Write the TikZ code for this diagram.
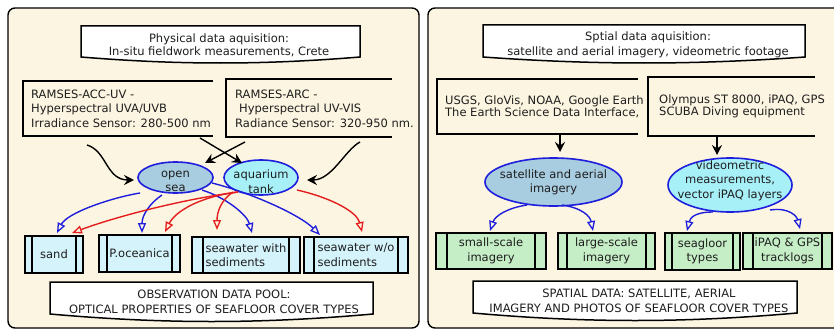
\documentclass[tikz,border=0pt]{standalone}
\usepackage{fontspec}
\setmainfont{DejaVu Sans}
\usetikzlibrary{arrows.meta,shapes.geometric}
\definecolor{cream}{HTML}{FCF5E1}
\definecolor{boxcyan}{HTML}{D4F3FA}
\definecolor{boxgreen}{HTML}{C6EEC6}
\definecolor{ellA}{HTML}{A8CCE0}
\definecolor{ellB}{HTML}{A8F0F8}
\definecolor{eblue}{HTML}{1E1EDC}
\definecolor{ered}{HTML}{E41E1E}
\definecolor{txt}{HTML}{1E1E1E}
\tikzset{
 every node/.style={text=txt, font=\fontsize{11.5}{14.5}\selectfont, inner sep=0pt},
 panel/.style={draw=black, line width=1.4pt, fill=cream, rounded corners=7pt},
 docbox/.style={draw=black, line width=1.5pt, fill=white},
 openbox/.style={draw=black, line width=1.5pt},
 sbox/.style={rectangle},
 pbox/.style={rectangle, draw=black, line width=1.5pt, align=center,
   path picture={\draw[line width=1.5pt]
     ([xshift=#1]path picture bounding box.north west) -- ([xshift=#1]path picture bounding box.south west)
     ([xshift=-#1]path picture bounding box.north east) -- ([xshift=-#1]path picture bounding box.south east);}},
 cyanbox/.style={pbox=#1, fill=boxcyan},
 greenbox/.style={pbox=#1, fill=boxgreen},
 ell/.style={ellipse, draw=eblue, line width=1.6pt},
 blk/.style={-{Stealth[length=10pt,width=10pt,inset=3.5pt]}, draw=black, line width=1.4pt},
 bluearr/.style={-{Triangle[open,length=10pt,width=8pt,line width=1.3pt]}, draw=eblue, line width=1.4pt},
 redarr/.style={-{Triangle[open,length=10pt,width=8pt,line width=1.3pt]}, draw=ered, line width=1.4pt},
 sensortext/.style={anchor=north west, align=left},
 tighttext/.style={anchor=north west, align=left, font=\fontsize{11.5}{12.3}\selectfont},
}
\begin{document}
\begin{tikzpicture}[x=1pt,y=-1pt]
\useasboundingbox (0,0) rectangle (834,329);
\fill[white] (0,0) rectangle (834,329);
% panels
\draw[panel] (8,8) rectangle (419,328);
\draw[panel] (428,8) rectangle (842,328);

% ---------- left panel ----------
\draw[docbox] (81,57) -- (81,26) -- (360,26) -- (360,57) .. controls (262,65) and (179,65) .. (81,57) -- cycle;
\node[anchor=north, align=center, font=\fontsize{11.5}{13.5}\selectfont] (t1) at (219,33.5)
  {Physical data aquisition:\\In-situ fieldwork measurements, Crete};

\node[sbox, minimum width=190pt, minimum height=55pt] (s1) at (118,108.5) {};
\draw[openbox] (s1.north east) -- (s1.north west) -- (s1.south west) -- (s1.south east);
\node[sensortext] (s1t) at (31,89.3)
  {RAMSES-ACC-UV -\\Hyperspectral UVA/UVB\\Irradiance Sensor: 280-500 nm};

\node[sbox, minimum width=166pt, minimum height=58pt] (s2) at (309,108) {};
\draw[openbox] (s2.north east) -- (s2.north west) -- (s2.south west) -- (s2.south east);
\node[sensortext] (s2t) at (235,89.3)
  {RAMSES-ARC -\\\hspace*{4pt}Hyperspectral UV-VIS\\Radiance Sensor: 320-950 nm.};

\node[ell, fill=ellA, minimum width=75pt, minimum height=31pt] (os) at (175.5,177.5) {};
\node[align=center] (ost) at (175.5,181.5) {open\\sea};
\node[ell, fill=ellB, minimum width=74pt, minimum height=35pt] (aq) at (261,177.5) {};
\node[align=center] (aqt) at (261,181.5) {aquarium\\tank};

\node[cyanbox=7pt, minimum width=58pt, minimum height=37pt] (sand) at (54,254.5) {sand};
\node[cyanbox=8pt, minimum width=81pt, minimum height=37pt] (poc) at (139.5,253.5) {P.oceanica};
\node[cyanbox=11pt, minimum width=108pt, minimum height=36pt, align=left] (sww) at (246,255) {seawater with\\sediments};
\node[cyanbox=10pt, minimum width=104pt, minimum height=36pt, align=left] (swo) at (356,255) {seawater w/o\\sediments};

\draw[docbox] (50,314) -- (50,282) -- (373,282) -- (373,314) .. controls (260,324) and (163,324) .. (50,314) -- cycle;
\node[anchor=north, align=center, font=\fontsize{11.5}{15}\selectfont] (p1) at (214,289.6)
  {OBSERVATION DATA POOL:\\OPTICAL PROPERTIES OF SEAFLOOR COVER TYPES};

% black arrows left
\draw[blk] ([shift={(-31,36.5)}]s1.center) .. controls +(20,6) and +(-28,0) .. ([shift={(-41.5,2.5)}]os.center);
\draw[blk] ([shift={(82,29.5)}]s1.center) -- ([shift={(-19,-14.5)}]aq.center);
\draw[blk] ([shift={(-64,34)}]s2.center) -- ([shift={(29.5,-14.5)}]os.center);
\draw[blk] ([shift={(51,34)}]s2.center) .. controls +(-15,8) and +(25,0) .. ([shift={(46,2.5)}]aq.center);

% blue arrows from open sea
\draw[bluearr] ([shift={(-35.5,15.5)}]os.center) .. controls +(-30,5) and +(10,-20) .. ([shift={(3,-21.5)}]sand.center);
\draw[bluearr] ([shift={(-13.5,17.5)}]os.center) .. controls +(-12,8) and +(0,-18) .. ([shift={(2.5,-20.5)}]poc.center);
\draw[bluearr] ([shift={(26.5,12.5)}]os.center) .. controls +(25,8) and +(-5,-18) .. ([shift={(6,-22)}]sww.center);
\draw[bluearr] ([shift={(36.5,5.5)}]os.center) .. controls +(40,10) and +(-20,-20) .. ([shift={(-36,-20)}]swo.center);

% red arrows from aquarium
\draw[redarr] ([shift={(-23,14.5)}]aq.center) .. controls +(-60,8) and +(40,-15) .. ([shift={(18,-21.5)}]sand.center);
\draw[redarr] ([shift={(-23,14.5)}]aq.center) .. controls +(-40,5) and +(10,-20) .. ([shift={(25.5,-21.5)}]poc.center);
\draw[redarr] ([shift={(-28,14.5)}]aq.center) .. controls +(-12,8) and +(0,-18) .. ([shift={(-29,-25)}]sww.center);
\draw[redarr] ([shift={(36,12.5)}]aq.center) .. controls +(35,8) and +(-5,-20) .. ([shift={(6,-23)}]swo.center);

% ---------- right panel ----------
\draw[docbox] (483,57) -- (483,25) -- (805,25) -- (805,57) .. controls (692,65) and (596,65) .. (483,57) -- cycle;
\node[anchor=north, align=center, font=\fontsize{11.5}{15}\selectfont] (t2) at (648,31.6)
  {Sptial data aquisition:\\satellite and aerial imagery, videometric footage};

\node[sbox, minimum width=201pt, minimum height=55pt] (s3) at (537.5,106.5) {};
\draw[openbox] (s3.north east) -- (s3.north west) -- (s3.south west) -- (s3.south east);
\node[tighttext] (s3t) at (445,95.6)
  {USGS, GloVis, NOAA, Google Earth\\The Earth Science Data Interface,};

\node[sbox, minimum width=167pt, minimum height=59pt] (s4) at (731.5,106.5) {};
\draw[openbox] (s4.north east) -- (s4.north west) -- (s4.south west) -- (s4.south east);
\node[tighttext] (s4t) at (659,94.6)
  {Olympus ST 8000, iPAQ, GPS\\SCUBA Diving equipment};

\node[ell, fill=ellA, minimum width=137pt, minimum height=48pt] (sat) at (553.5,182) {};
\node[align=center] (satt) at (553.5,182.5) {satellite and aerial\\imagery};
\node[ell, fill=ellB, minimum width=124pt, minimum height=54pt] (vid) at (730,185) {};
\node[align=center] (vidt) at (730,180.8) {videometric\\measurements,\\vector iPAQ layers};

\node[greenbox=11pt, minimum width=110pt, minimum height=36pt] (sml) at (491,251) {small-scale\\imagery};
\node[greenbox=9pt, minimum width=97pt, minimum height=36pt] (lrg) at (606.5,251) {large-scale\\imagery};
\node[greenbox=7pt, minimum width=75pt, minimum height=37pt] (sgl) at (702.5,251.5) {seagloor\\types};
\node[greenbox=10pt, minimum width=89pt, minimum height=36pt] (ipq) at (787.5,251) {iPAQ \& GPS\\tracklogs};

\draw[docbox] (473,313) -- (473,281) -- (797,281) -- (797,313) .. controls (684,323) and (586,323) .. (473,313) -- cycle;
\node[anchor=north, align=center, font=\fontsize{11.5}{15}\selectfont] (p2) at (639,288.6)
  {SPATIAL DATA: SATELLITE, AERIAL\\IMAGERY AND PHOTOS OF SEAFLOOR COVER TYPES};

% black arrows right
\draw[blk] ([shift={(22.5,27.5)}]s3.center) -- ([shift={(6.5,-30)}]sat.center);
\draw[blk] ([shift={(-14.5,29.5)}]s4.center) -- ([shift={(-13,-30)}]vid.center);

% blue arrows right
\draw[bluearr] ([shift={(-26.5,23)}]sat.center) .. controls +(-20,3) and +(5,-15) .. ([shift={(-1,-20)}]sml.center);
\draw[bluearr] ([shift={(8.5,23)}]sat.center) .. controls +(20,3) and +(-3,-15) .. ([shift={(-13.5,-20)}]lrg.center);
\draw[bluearr] ([shift={(-17,27)}]vid.center) .. controls +(-20,0) and +(3,-12) .. ([shift={(-15.5,-20.5)}]sgl.center);
\draw[bluearr] ([shift={(40,25)}]vid.center) .. controls +(20,-3) and +(-3,-12) .. ([shift={(12.5,-22)}]ipq.center);
\end{tikzpicture}
\end{document}
